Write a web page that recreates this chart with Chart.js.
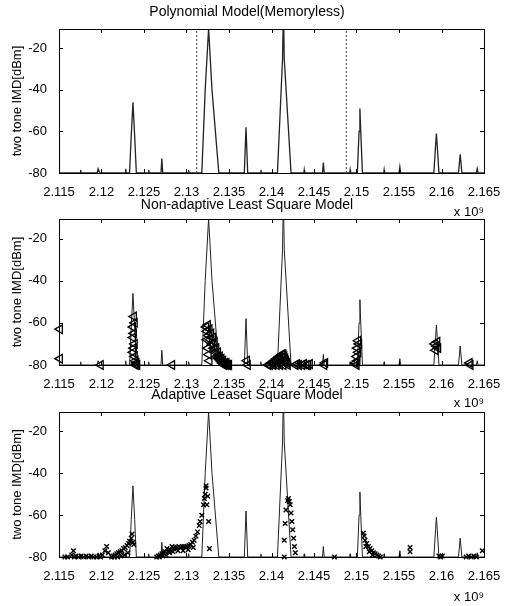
<!DOCTYPE html>
<html>
<head>
<meta charset="utf-8">
<script src="https://cdn.jsdelivr.net/npm/chart.js@4"></script>
<style>
  body { margin: 0; background: #fff; width: 512px; height: 606px; position: relative; overflow: hidden; }
  canvas { position: absolute; left: 0; }
</style>
</head>
<body>
<canvas id="c1" width="512" height="220" style="top:0px"></canvas>
<canvas id="c2" width="512" height="221" style="top:190px"></canvas>
<canvas id="c3" width="512" height="226" style="top:380px"></canvas>
<script>
// axis ranges / ticks (frequency in GHz, shown with x 10^9 factor)
const X_MIN = 2.115, X_MAX = 2.165;
const Y_MIN = -80, Y_MAX = -10.7;
const xTicks = [2.115, 2.12, 2.125, 2.13, 2.135, 2.14, 2.145, 2.15, 2.155, 2.16, 2.165];
const xTickLabels = ['2.115', '2.12', '2.125', '2.13', '2.135', '2.14', '2.145', '2.15', '2.155', '2.16', '2.165'];
const yTicks = [-80, -60, -40, -20];

// measured two tone IMD spectrum
const specFreq = [2.1150, 2.11505, 2.1152, 2.1175, 2.11755, 2.1176, 2.1195, 2.1196, 2.1198, 2.1228, 2.12285, 2.1229,
  2.1233, 2.1235, 2.1237, 2.1239, 2.1241, 2.1255, 2.12555, 2.1256, 2.1270, 2.1271, 2.1272, 2.1302, 2.13025, 2.1303,
  2.1318, 2.1322, 2.1326, 2.1330, 2.1338, 2.1368, 2.1370, 2.1372, 2.1387, 2.13875, 2.1388,
  2.1407, 2.1413, 2.1414, 2.1415, 2.1423, 2.1438, 2.14385, 2.1439, 2.1460, 2.1461, 2.1462, 2.1492, 2.14925, 2.1493,
  2.1501, 2.1503, 2.1504, 2.1505, 2.1507, 2.1532, 2.15325, 2.1533, 2.1550, 2.1551, 2.1552,
  2.1591, 2.1593, 2.1594, 2.1595, 2.1597, 2.1620, 2.1622, 2.1624, 2.1641, 2.1642, 2.1643, 2.1650];
const specLevel = [-62, -80, -80, -80, -78.5, -80, -80, -78, -80, -80, -78, -80,
  -80, -62, -46, -62, -80, -80, -78.5, -80, -80, -73, -80, -80, -78.5, -80,
  -80, -40, -10.5, -40, -80, -80, -58, -80, -80, -78.5, -80,
  -80, -25, 0, -25, -80, -80, -78.5, -80, -80, -75, -80, -80, -78.5, -80,
  -80, -60, -49, -60, -80, -80, -78.5, -80, -80, -77, -80,
  -80, -67, -61, -67, -80, -80, -71, -80, -80, -78, -80, -80];

// memoryless model band edges (panel 1)
const bandEdges = [2.1312, 2.1488];

// non-adaptive least square model estimates (panel 2)
const naFreq = [2.1151, 2.1151, 2.1199,
  2.1238, 2.1239, 2.1237, 2.1238, 2.1237, 2.1239, 2.1238, 2.1237, 2.1239, 2.1240, 2.1241, 2.1242, 2.1240,
  2.1283,
  2.1323, 2.1324, 2.1325, 2.1326, 2.1327, 2.1328, 2.1329, 2.1330, 2.1331, 2.1332, 2.1333, 2.1334, 2.1335, 2.1336,
  2.1337, 2.1338, 2.1339, 2.1340, 2.1341, 2.1342, 2.1343, 2.1344, 2.1345, 2.1346, 2.1347, 2.1348, 2.1349, 2.1350,
  2.1324, 2.1325, 2.1326, 2.1327,
  2.1372, 2.1371,
  2.1396, 2.1398, 2.1400, 2.1402, 2.1403, 2.1405, 2.1406, 2.1408, 2.1409, 2.1410, 2.1412, 2.1413, 2.1414, 2.1415,
  2.1416, 2.1417, 2.1418, 2.1419, 2.1402, 2.1406, 2.1410, 2.1414, 2.1408, 2.1412,
  2.1428, 2.1430, 2.1432, 2.1436, 2.1438, 2.1441, 2.1443, 2.1445,
  2.1463, 2.1462,
  2.1500, 2.1499, 2.1501, 2.1500, 2.1502, 2.1501, 2.1503, 2.1502,
  2.1592, 2.1594, 2.1596, 2.1595, 2.1593,
  2.1633, 2.1634];
const naLevel = [-63, -77, -80,
  -57, -60, -62, -65, -67, -70, -72, -74, -76, -78, -79, -80, -80,
  -80,
  -62, -64, -61, -66, -63, -68, -65, -70, -67, -72, -69, -74, -72, -76,
  -74, -77, -76, -78, -77, -79, -78, -80, -79, -80, -79, -80, -80, -80,
  -68, -72, -75, -78,
  -80, -78,
  -80, -80, -79, -79, -78, -78, -77, -77, -76, -76, -75, -75, -75, -76,
  -77, -78, -79, -80, -80, -80, -80, -80, -79, -78,
  -80, -79.5, -80, -80, -79.5, -80, -80, -79.5,
  -79, -80,
  -80, -79, -78, -76, -74, -72, -70, -68.5,
  -70, -71, -72, -69, -73,
  -79, -80];

// adaptive least square model estimates (panel 3)
const adFreq = [2.1157, 2.1160, 2.1167, 2.1165, 2.1168, 2.1170, 2.1173, 2.1176, 2.1179, 2.1182, 2.1185, 2.1188,
  2.1191, 2.1194, 2.1197, 2.1199, 2.1201, 2.1204, 2.1206, 2.1208,
  2.1212, 2.1214, 2.1216, 2.1218, 2.1220, 2.1222, 2.1224, 2.1226, 2.1228, 2.1230, 2.1232, 2.1233, 2.1235, 2.1236,
  2.1237, 2.1238, 2.1215, 2.1219, 2.1223, 2.1227, 2.1231,
  2.1265, 2.1267, 2.1269, 2.1271, 2.1273, 2.1275, 2.1277, 2.1279, 2.1281, 2.1283, 2.1285, 2.1287, 2.1289, 2.1291,
  2.1293, 2.1295, 2.1297, 2.1299, 2.1301, 2.1303, 2.1305, 2.1307, 2.1309, 2.1311, 2.1313, 2.1315, 2.1316, 2.1318,
  2.1320, 2.1321, 2.1322, 2.1323, 2.1323, 2.1324, 2.1325, 2.1326, 2.1327,
  2.1268, 2.1272, 2.1276, 2.1280, 2.1284, 2.1290, 2.1296, 2.1302, 2.1308,
  2.1415, 2.1415, 2.1416, 2.1417, 2.1419, 2.1420, 2.1421, 2.1422, 2.1423, 2.1424, 2.1425, 2.1426, 2.1427, 2.1428,
  2.1474,
  2.1508, 2.1509, 2.1510, 2.1512, 2.1514, 2.1516, 2.1518, 2.1520, 2.1522, 2.1524, 2.1526, 2.1528, 2.1511, 2.1515, 2.1519,
  2.1563, 2.1563,
  2.1597, 2.1599, 2.1601,
  2.1629, 2.1632, 2.1635, 2.1638, 2.1641,
  2.1648];
const adLevel = [-80, -80, -77, -79, -80, -79.5, -80, -79.5, -80, -79.5, -80, -79.5,
  -80, -80, -79.5, -80, -79, -77, -75, -78,
  -80, -79.5, -79, -78.5, -78, -77.5, -77, -76, -75.5, -74.5, -73.5, -72.5, -71, -69,
  -73, -74, -80, -80, -79.5, -79, -78,
  -80, -79.5, -79, -78.5, -78, -77.5, -76, -77, -76.5, -75, -76, -75.5, -75.5, -75,
  -75.5, -75, -75, -75.5, -75, -74.5, -74, -73, -72, -70, -68, -65, -63, -60,
  -55, -52, -50, -47, -46, -55, -51, -63, -76,
  -80, -79.5, -79, -78, -77.5, -77, -77, -76.5, -75.5,
  -80, -72, -64, -57.5, -53, -52, -53.5, -55, -59, -63, -67, -71, -75, -78,
  -80,
  -68.5, -70, -72, -73.5, -75, -76, -77, -78, -78.5, -79, -79.5, -80, -75, -77.5, -79,
  -75.5, -77.5,
  -79.5, -80, -79.5,
  -80, -79.5, -80, -79.5, -80,
  -77];

const FONT = "'Liberation Sans', Arial, Helvetica, sans-serif";
const toPts = (xs, ys) => xs.map((x, i) => ({ x: x, y: ys[i] }));

// box + inward tick marks like a matlab axes
const framePlugin = {
  id: 'frame',
  afterDraw(chart) {
    const { ctx, chartArea: a, scales: { x, y } } = chart;
    ctx.save();
    ctx.strokeStyle = '#000';
    ctx.lineWidth = 1;
    ctx.strokeRect(Math.round(a.left) + 0.5, Math.round(a.top) + 0.5, Math.round(a.right - a.left), Math.round(a.bottom - a.top));
    ctx.beginPath();
    xTicks.forEach(v => {
      const px = Math.round(x.getPixelForValue(v)) + 0.5;
      ctx.moveTo(px, a.bottom); ctx.lineTo(px, a.bottom - 4);
      ctx.moveTo(px, a.top); ctx.lineTo(px, a.top + 4);
    });
    yTicks.forEach(v => {
      const py = Math.round(y.getPixelForValue(v)) + 0.5;
      ctx.moveTo(a.left, py); ctx.lineTo(a.left + 4, py);
      ctx.moveTo(a.right, py); ctx.lineTo(a.right - 4, py);
    });
    ctx.stroke();
    ctx.restore();
  }
};

function spectrumSet(width) {
  return {
    data: toPts(specFreq, specLevel),
    borderColor: '#222', borderWidth: width,
    pointRadius: 0, tension: 0, order: 2
  };
}

function makePanel(id, title, titlePad, xAxisH, xTitlePad, lineW, extra) {
  return new Chart(document.getElementById(id), {
    type: 'line',
    data: { datasets: extra.concat([spectrumSet(lineW)]) },
    options: {
      responsive: false,
      animation: false,
      events: [],
      layout: { padding: { left: 10, right: 28, top: 0, bottom: 0 } },
      plugins: {
        legend: { display: false },
        tooltip: { enabled: false },
        title: {
          display: true, text: title, color: '#000',
          font: { family: FONT, size: 14, weight: 'normal' },
          padding: titlePad
        }
      },
      scales: {
        x: {
          type: 'linear', min: X_MIN, max: X_MAX,
          grid: { display: false }, border: { display: false },
          afterBuildTicks: s => { s.ticks = xTicks.map(v => ({ value: v })); },
          afterFit: s => { s.height = xAxisH; },
          ticks: {
            color: '#000', font: { family: FONT, size: 13 }, padding: 4,
            maxRotation: 0, autoSkip: false,
            callback: (v, i) => xTickLabels[i]
          },
          title: {
            display: true, text: 'x 10⁹', align: 'end', color: '#000',
            font: { family: FONT, size: 13 }, padding: { top: 0, bottom: xTitlePad }
          }
        },
        y: {
          type: 'linear', min: Y_MIN, max: Y_MAX,
          grid: { display: false }, border: { display: false },
          afterBuildTicks: s => { s.ticks = yTicks.map(v => ({ value: v })); },
          afterFit: s => { s.width = 49; },
          ticks: { color: '#000', font: { family: FONT, size: 13 }, padding: 4, callback: v => String(v) },
          title: {
            display: true, text: 'two tone IMD[dBm]', color: '#000',
            font: { family: FONT, size: 13 }, padding: 0
          }
        }
      }
    },
    plugins: [framePlugin]
  });
}

// panel 1: memoryless polynomial model with dotted band edges
const edgeSets = bandEdges.map(f => ({
  data: [{ x: f, y: Y_MIN }, { x: f, y: Y_MAX }],
  borderColor: '#444', borderWidth: 1, borderDash: [2, 2],
  pointRadius: 0, order: 1
}));
makePanel('c1', 'Polynomial Model(Memoryless)', { top: 4, bottom: 8.2 }, 47, 0, 1.3, edgeSets);

// panel 2: non-adaptive LS, left triangle markers
makePanel('c2', 'Non-adaptive Least Square Model', { top: 7, bottom: 5.2 }, 46, 0, 1, [{
  data: toPts(naFreq, naLevel),
  showLine: false, pointStyle: 'triangle', rotation: -90,
  pointRadius: 5, pointBorderWidth: 1.3,
  borderColor: '#000', backgroundColor: 'rgba(0,0,0,0)',
  clip: false, order: 0
}]);

// panel 3: adaptive LS, x markers
makePanel('c3', 'Adaptive Leaset Square Model', { top: 7, bottom: 8.2 }, 49, 1, 1, [{
  data: toPts(adFreq, adLevel),
  showLine: false, pointStyle: 'crossRot',
  pointRadius: 3.2, pointBorderWidth: 1.4,
  borderColor: '#000', backgroundColor: '#000',
  clip: false, order: 0
}]);
</script>
</body>
</html>
